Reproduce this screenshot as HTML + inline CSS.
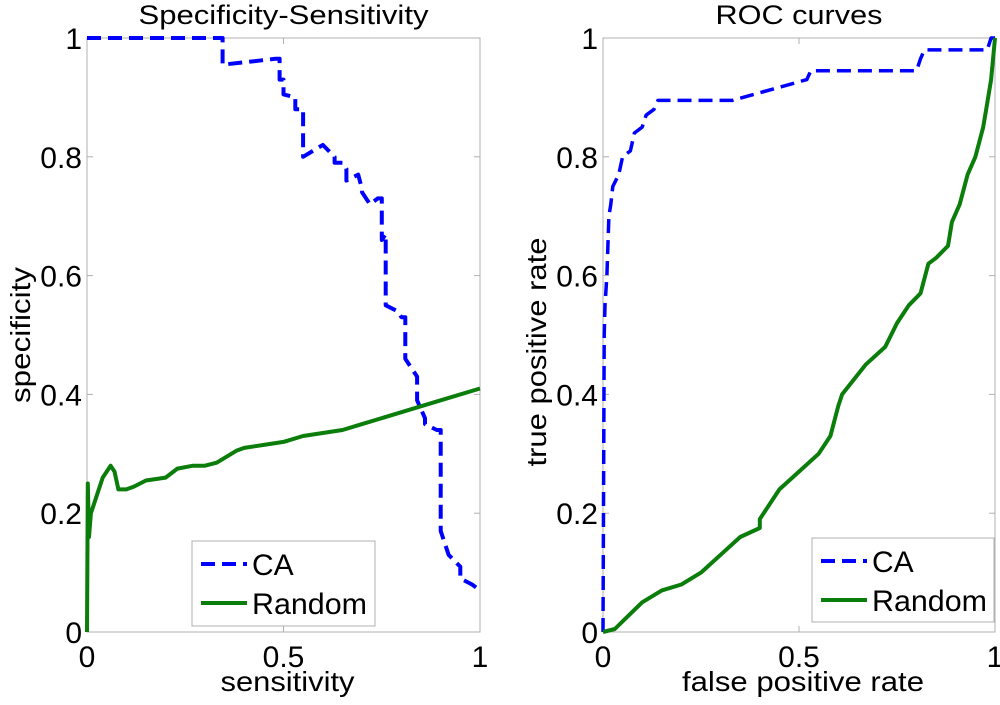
<!DOCTYPE html>
<html><head><meta charset="utf-8"><style>
body{margin:0;background:#fff;width:1000px;height:700px;overflow:hidden}
text{font-family:"Liberation Sans",Arial,sans-serif;fill:#000}
</style></head><body>
<svg id="chart" width="1000" height="700" xmlns="http://www.w3.org/2000/svg"></svg>
<script>
const ssCaX=[0,0.345,0.345,0.48,0.49,0.49,0.5,0.5,0.53,0.53,0.55,0.55,0.6,0.63,0.63,0.65,0.66,0.66,0.69,0.7,0.7,0.72,0.74,0.75,0.75,0.76,0.76,0.79,0.8,0.81,0.81,0.84,0.84,0.86,0.86,0.89,0.9,0.9,0.92,0.95,0.95,0.98,1];
const ssCaY=[1,1,0.955,0.965,0.965,0.93,0.93,0.905,0.9,0.88,0.88,0.8,0.82,0.8,0.79,0.79,0.78,0.76,0.77,0.745,0.74,0.72,0.73,0.73,0.66,0.67,0.55,0.54,0.53,0.53,0.46,0.43,0.39,0.36,0.35,0.34,0.34,0.17,0.13,0.11,0.09,0.08,0.07];
const ssRndX=[0,0.002,0.005,0.01,0.02,0.03,0.04,0.05,0.06,0.07,0.08,0.1,0.12,0.15,0.2,0.23,0.27,0.3,0.33,0.38,0.4,0.45,0.5,0.55,0.6,0.65,0.7,0.8,0.9,1];
const ssRndY=[0,0.25,0.16,0.2,0.22,0.24,0.26,0.27,0.28,0.27,0.24,0.24,0.245,0.255,0.26,0.275,0.28,0.28,0.285,0.305,0.31,0.315,0.32,0.33,0.335,0.34,0.35,0.37,0.39,0.41];
const rocCaX=[0,0.003,0.005,0.01,0.015,0.02,0.025,0.04,0.05,0.07,0.08,0.1,0.11,0.13,0.14,0.33,0.52,0.53,0.8,0.81,0.82,0.98,0.99,1];
const rocCaY=[0,0.5,0.55,0.6,0.7,0.72,0.75,0.77,0.8,0.81,0.84,0.85,0.87,0.88,0.895,0.895,0.93,0.945,0.945,0.965,0.98,0.98,1,1];
const rocRndX=[0,0.03,0.1,0.15,0.2,0.25,0.3,0.35,0.4,0.4,0.45,0.5,0.55,0.58,0.6,0.61,0.67,0.72,0.75,0.78,0.81,0.83,0.85,0.88,0.89,0.91,0.93,0.95,0.97,0.98,0.99,1];
const rocRndY=[0,0.005,0.05,0.07,0.08,0.1,0.13,0.16,0.175,0.19,0.24,0.27,0.3,0.33,0.38,0.4,0.45,0.48,0.52,0.55,0.57,0.62,0.63,0.65,0.69,0.72,0.77,0.8,0.85,0.89,0.93,1];
const xTicks=[0,0.5,1];
const xTickLabels=["0","0.5","1"];
const yTicks=[0,0.2,0.4,0.6,0.8,1];
const yTickLabels=["0","0.2","0.4","0.6","0.8","1"];

const svg=document.getElementById('chart');
const NS='http://www.w3.org/2000/svg';
function mk(tag,attrs,parent){const e=document.createElementNS(NS,tag);for(const k in attrs)e.setAttribute(k,attrs[k]);(parent||svg).appendChild(e);return e;}
const axTop=38,axBot=632;
function panel(id,x0,x1,title,titleLen,xl,xlLen,yl,ylLen,series,leg){
  const g=mk('g',{});
  
  
  const sx=v=>x0+v*(x1-x0), sy=v=>axBot-v*(axBot-axTop);
  const box=mk('rect',{x:x0,y:axTop,width:x1-x0,height:axBot-axTop,fill:'none',stroke:'#b0b0b0','stroke-width':1},g);
  
  
  xTicks.forEach((t,i)=>{
    mk('line',{x1:sx(t),x2:sx(t),y1:axBot,y2:axBot-6,stroke:'#b0b0b0'},g);
    mk('line',{x1:sx(t),x2:sx(t),y1:axTop,y2:axTop+6,stroke:'#b0b0b0'},g);
    const tx=mk('text',{x:sx(t),y:axBot+35,'font-size':30,'text-anchor':'middle'},g);tx.textContent=xTickLabels[i];
    
    
  });
  yTicks.forEach((t,i)=>{
    mk('line',{x1:x0,x2:x0+6,y1:sy(t),y2:sy(t),stroke:'#b0b0b0'},g);
    mk('line',{x1:x1,x2:x1-6,y1:sy(t),y2:sy(t),stroke:'#b0b0b0'},g);
    const tx=mk('text',{x:x0-5,y:sy(t)+11,'font-size':30,'text-anchor':'end'},g);tx.textContent=yTickLabels[i];
    
    
  });
  const ti=mk('text',{x:(x0+x1)/2-titleLen/2,y:24,'font-size':27,textLength:titleLen,lengthAdjust:'spacingAndGlyphs'},g);ti.textContent=title;
  
  
  const xt=mk('text',{x:(x0+x1)/2-xlLen/2+4,y:691,'font-size':28,textLength:xlLen,lengthAdjust:'spacingAndGlyphs'},g);xt.textContent=xl;
  
  
  const yx=x0-66, yc=(axTop+axBot)/2+ (id==='roc'?17:0);
  const yt=mk('text',{x:yx-ylLen/2,y:yc+9,'font-size':28,textLength:ylLen,lengthAdjust:'spacingAndGlyphs',transform:`rotate(-90 ${yx} ${yc})`},g);yt.textContent=yl;
  
  
  series.forEach(s=>{
    const d=s.x.map((v,i)=>(i?'L':'M')+sx(v).toFixed(1)+' '+sy(s.y[i]).toFixed(1)).join(' ');
    const p=mk('path',{d,fill:'none',stroke:s.c,'stroke-width':s.w,'stroke-dasharray':s.dash||'none','stroke-linejoin':'round'},g);
    
    
  });
  const lg=mk('g',{},g);
  
  
  mk('rect',{x:leg[0],y:leg[1],width:leg[2],height:leg[3],fill:'#fff',stroke:'#b0b0b0'},lg);
  mk('line',{x1:leg[0]+9,x2:leg[0]+55,y1:leg[1]+23,y2:leg[1]+23,stroke:'#0000ff','stroke-width':4,'stroke-dasharray':'14 7'},lg);
  mk('line',{x1:leg[0]+9,x2:leg[0]+55,y1:leg[1]+62,y2:leg[1]+62,stroke:'#0a7d0a','stroke-width':4},lg);
  const t1=mk('text',{x:leg[0]+60,y:leg[1]+34,'font-size':30},lg);t1.textContent='CA';
  
  
  const t2=mk('text',{x:leg[0]+60,y:leg[1]+73,'font-size':30,textLength:115,lengthAdjust:'spacingAndGlyphs'},lg);t2.textContent='Random';
  
  
}
panel('spec-sens',87,480,'Specificity-Sensitivity',290,'sensitivity',134,'specificity',136,[
  {name:'ca-spec-line',x:ssCaX,y:ssCaY,c:'#0000ff',w:4,dash:'14 7'},
  {name:'random-spec-line',x:ssRndX,y:ssRndY,c:'#0a7d0a',w:4}],[192,541,183,85]);
panel('roc',603,995,'ROC curves',167,'false positive rate',242,'true positive rate',229,[
  {name:'ca-roc-line',x:rocCaX,y:rocCaY,c:'#0000ff',w:3.5,dash:'14 7'},
  {name:'random-roc-line',x:rocRndX,y:rocRndY,c:'#0a7d0a',w:4}],[812,538,182,84]);
</script>
</body></html>
